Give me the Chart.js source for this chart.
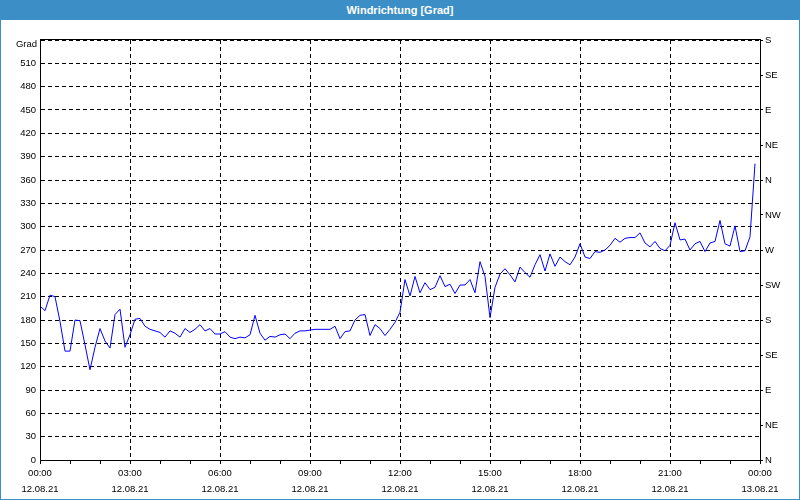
<!DOCTYPE html>
<html>
<head>
<meta charset="utf-8">
<script src="https://cdn.jsdelivr.net/npm/chart.js@4/dist/chart.umd.min.js"></script>
<style>
html,body{margin:0;padding:0;background:#fff;}
#wrap{width:800px;height:500px;position:relative;overflow:hidden;}
#title{height:20px;background:#3c8fc6;color:#fff;font:bold 11px "Liberation Sans",Arial,sans-serif;text-align:center;line-height:20px;}
#box{width:798px;height:479px;border:1px solid #3c8fc6;border-top:none;background:#fff;}
canvas{display:block;}
</style>
</head>
<body>
<div id="wrap">
<div id="title">Windrichtung [Grad]</div>
<div id="box"><canvas id="c" width="798" height="479"></canvas></div>
</div>
<script>
// wind direction in degrees, one reading every 10 minutes from 12.08.21 00:00
const values = [198,192,212,210,178,140,140,180,179,148,116,145,169,153,144,187,194,145,161,181,
  182,172,168,166,164,158,166,163,158,169,164,168,174,166,169,162,162,165,158,156,
  158,157,161,186,163,154,159,158,161,162,156,163,166,166,167,168,168,168,168,172,
  156,165,166,180,186,187,160,174,169,160,168,177,190,
  232,211,236,215,228,219,222,237,223,226,214,225,225,232,215,255,236,183,222,239,
  246,238,229,248,241,235,251,264,243,265,249,261,255,251,261,278,261,259,268,267,
  270,276,285,280,285,286,286,292,279,274,281,272,269,276,305,283,284,270,278,281,
  268,279,281,308,278,275,301,268,269,287,381];
const stepMinutes = 10;
const hourLabels = ['00:00','03:00','06:00','09:00','12:00','15:00','18:00','21:00','00:00'];
const dateLabels = ['12.08.21','12.08.21','12.08.21','12.08.21','12.08.21','12.08.21','12.08.21','12.08.21','13.08.21'];
const compassLabels = ['N','NE','E','SE','S','SW','W','NW','N','NE','E','SE','S'];
const yTitle = 'Grad';

const points = values.map((v,i)=>({x:i*stepMinutes,y:v}));
const FONT = {family:'"Liberation Sans", Arial, sans-serif', size:9.5};

const framePlugin = {
  id:'frame',
  afterDraw(chart){
    const {ctx, chartArea:a} = chart;
    ctx.save();
    ctx.strokeStyle='#000';ctx.lineWidth=1;ctx.setLineDash([]);
    ctx.strokeRect(Math.round(a.left)+0.5, Math.round(a.top)-0.5, Math.round(a.right-a.left), Math.round(a.bottom-a.top)+1);
    ctx.fillStyle='#000';
    ctx.font='9.5px "Liberation Sans", Arial, sans-serif';
    ctx.textAlign='right';ctx.textBaseline='middle';
    ctx.fillText(yTitle, a.left-3, a.top+4);
    ctx.restore();
  }
};

new Chart(document.getElementById('c'),{
  type:'line',
  data:{datasets:[{data:points,borderColor:'#0000ff',borderWidth:1,pointRadius:0,tension:0,fill:false}]},
  options:{
    responsive:false,animation:false,
    layout:{padding:{top:20,left:0,right:0,bottom:0}},
    plugins:{legend:{display:false},tooltip:{enabled:false},title:{display:false}},
    scales:{
      x:{type:'linear',min:0,max:1440,
        afterFit(s){s.height=39;},
        ticks:{stepSize:60,autoSkip:false,maxRotation:0,padding:1,color:'#000',font:Object.assign({lineHeight:'16px'},FONT),
          callback(v){ if(v%180!==0) return ''; const k=v/180; return [hourLabels[k],dateLabels[k]]; }},
        grid:{color(ctx){return (ctx.tick && ctx.tick.value%180===0)?'#000':'rgba(0,0,0,0)';},tickColor:'#000',tickLength:4,lineWidth:1},
        border:{color:'#000',dash:[4,3]}
      },
      y:{position:'left',min:0,max:540,
        afterFit(s){s.width=39;},
        ticks:{stepSize:30,padding:4,color:'#000',font:FONT,callback(v){return v===540?'':String(v);}},
        grid:{color:'#000',drawTicks:false,lineWidth:1},
        border:{color:'#000',dash:[4,3]}
      },
      y2:{position:'right',min:0,max:540,
        afterFit(s){s.width=39;},
        ticks:{stepSize:45,padding:2,color:'#000',font:FONT,callback(v){return compassLabels[Math.round(v/45)];}},
        grid:{drawOnChartArea:false,color:'#000',tickLength:3},
        border:{color:'#000'}
      }
    }
  },
  plugins:[framePlugin]
});
</script>
</body>
</html>
